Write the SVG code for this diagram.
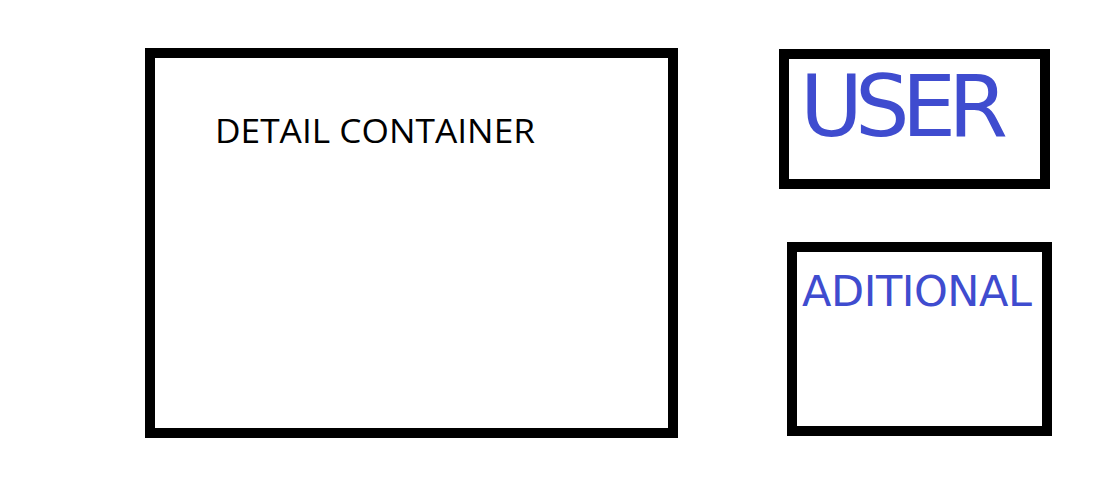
<svg xmlns="http://www.w3.org/2000/svg" width="1096" height="492" viewBox="0 0 1096 492">
<style>
.box{fill:#ffffff;stroke:#000000;stroke-width:10}
.hand{fill:#3f4ccf;font-family:"DejaVu Sans","Liberation Sans",sans-serif;}
.label{fill:#000000;font-family:"Open Sans","Noto Sans",sans-serif;font-size:32px}
</style>
<rect x="0" y="0" width="1096" height="492" fill="#ffffff"/>
<g id="detail-container">
<rect class="box" x="150" y="53" width="523" height="380"/>
<text class="label" x="215" y="143" textLength="320" lengthAdjust="spacingAndGlyphs">DETAIL CONTAINER</text>
</g>
<g id="user">
<rect class="box" x="784" y="54" width="261" height="130"/>
<text class="hand" x="800" y="136" font-size="86" textLength="208" lengthAdjust="spacing">USER</text>
</g>
<g id="aditional">
<rect class="box" x="792" y="247" width="255" height="184"/>
<text class="hand" x="802" y="306" font-size="43" textLength="230" lengthAdjust="spacing">ADITIONAL</text>
</g>
<g id="connectors"></g>
</svg>
